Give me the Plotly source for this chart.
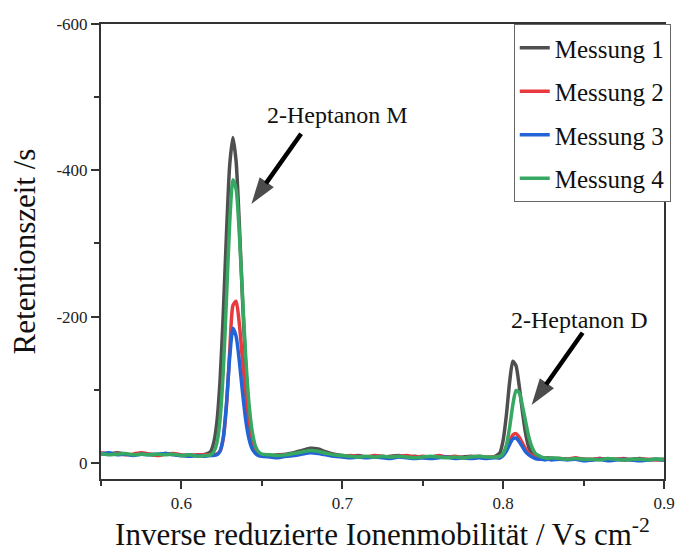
import plotly.graph_objects as go

# Inverse reduced ion mobility (Vs cm^-2), shared by all runs
x_k0 = [
    0.550, 0.555, 0.560, 0.565, 0.570, 0.575, 0.580, 0.585, 0.590, 0.595, 0.600, 0.605, 0.610, 0.615,
    0.618, 0.620, 0.622, 0.624, 0.626, 0.628, 0.630, 0.632, 0.634, 0.636, 0.638, 0.640, 0.642, 0.644,
    0.646, 0.648, 0.650,
    0.655, 0.660, 0.665, 0.670, 0.675, 0.680, 0.685, 0.690, 0.695, 0.700, 0.705, 0.710, 0.715, 0.720,
    0.725, 0.730, 0.735, 0.740, 0.745, 0.750, 0.755, 0.760, 0.765, 0.770, 0.775, 0.780, 0.785, 0.790,
    0.795,
    0.798, 0.800, 0.802, 0.804, 0.806, 0.808, 0.810, 0.812, 0.814, 0.816, 0.818, 0.820, 0.822, 0.824,
    0.826, 0.828, 0.830,
    0.835, 0.840, 0.845, 0.850, 0.855, 0.860, 0.865, 0.870, 0.875, 0.880, 0.885, 0.890, 0.895, 0.900,
]

# Retention time (s) per measurement
rt_messung_1 = [
    -13, -12, -14, -12, -11, -13, -12, -11, -13, -12, -10, -11, -10, -12,
    -15, -27, -55, -112, -203, -313, -407, -445, -412, -326, -222, -131, -69, -34, -19, -12, -11,
    -10, -11, -12, -14, -17, -20, -19, -15, -12, -10, -9, -10, -8, -9, -8, -9, -10, -8, -9, -7,
    -8, -9, -8, -7, -8, -9, -8, -7, -9,
    -14, -31, -65, -110, -139, -133, -105, -70, -40, -21, -12, -9, -7, -7, -6, -7, -6,
    -6, -5, -6, -5, -4, -6, -5, -5, -4, -5, -6, -4, -5, -4,
]
rt_messung_2 = [
    -14, -12, -13, -11, -12, -14, -12, -10, -12, -13, -11, -10, -11, -11,
    -11, -11, -12, -16, -33, -78, -152, -215, -221, -190, -140, -91, -53, -29, -17, -12, -10,
    -9, -10, -11, -12, -14, -16, -15, -13, -11, -9, -10, -9, -8, -10, -9, -8, -9, -10, -8, -9,
    -8, -10, -8, -9, -7, -8, -9, -8, -8,
    -7, -11, -18, -29, -38, -40, -35, -27, -19, -13, -10, -8, -7, -6, -7, -6, -5,
    -6, -5, -7, -5, -5, -6, -4, -5, -6, -4, -5, -5, -4, -5,
]
rt_messung_3 = [
    -12, -14, -11, -12, -10, -12, -11, -12, -13, -11, -10, -9, -10, -9,
    -10, -10, -11, -16, -35, -81, -144, -184, -173, -139, -96, -58, -33, -19, -13, -10, -9,
    -8, -7, -9, -10, -12, -14, -13, -11, -9, -8, -7, -8, -7, -8, -7, -6, -8, -7, -6, -7,
    -6, -7, -8, -6, -7, -6, -7, -6, -7,
    -7, -10, -16, -25, -33, -34, -29, -22, -15, -11, -8, -6, -5, -5, -4, -5, -4,
    -5, -4, -5, -3, -4, -5, -3, -4, -5, -4, -3, -4, -5, -4,
]
rt_messung_4 = [
    -13, -11, -12, -13, -11, -12, -11, -12, -11, -12, -10, -11, -9, -10,
    -11, -15, -27, -59, -124, -224, -328, -387, -374, -313, -227, -144, -81, -43, -23, -15, -12,
    -11, -10, -11, -13, -15, -17, -16, -13, -11, -10, -9, -8, -9, -8, -9, -8, -9, -8, -7, -8,
    -9, -8, -7, -8, -7, -8, -9, -8, -8,
    -9, -13, -24, -48, -79, -99, -96, -78, -56, -35, -21, -13, -10, -8, -7, -6, -7,
    -6, -5, -6, -5, -5, -4, -6, -5, -4, -5, -5, -4, -5, -5,
]

series_names = ["Messung 1", "Messung 2", "Messung 3", "Messung 4"]
series_values = [rt_messung_1, rt_messung_2, rt_messung_3, rt_messung_4]
series_colors = ["#4f4f4f", "#e8393e", "#2264d6", "#37a862"]

# Peak labels: text position and arrow (tail -> tip)
peak_labels = ["2-Heptanon M", "2-Heptanon D"]
label_x = [0.697, 0.8476]
label_y = [-476, -196]
arrow_tail_x = [0.6744, 0.8494]
arrow_tail_y = [-450, -178]
arrow_tip_x = [0.6435, 0.8177]
arrow_tip_y = [-354, -79]

y_tickvals = [0, -200, -400, -600]
y_ticktext = ["0", "-200", "-400", "-600"]
x_tickvals = [0.6, 0.7, 0.8, 0.9]
x_ticktext = ["0.6", "0.7", "0.8", "0.9"]

SERIF = "Liberation Serif, Times New Roman, serif"
AXIS_COLOR = "#333333"

fig = go.Figure()
for i, (name, vals, col) in enumerate(zip(series_names, series_values, series_colors)):
    fig.add_trace(go.Scatter(
        x=x_k0, y=vals, mode="lines", name=name,
        line=dict(color=col, width=3.5, shape="spline", smoothing=0.6),
        legendgroup=f"g{i}",
    ))

# Arrows pointing at the two peaks
for tx, ty, hx, hy in zip(arrow_tail_x, arrow_tail_y, arrow_tip_x, arrow_tip_y):
    fig.add_trace(go.Scatter(
        x=[tx, hx], y=[ty, hy], mode="lines+markers",
        line=dict(color="#000000", width=4.5),
        marker=dict(symbol="arrow", size=[0, 28], angleref="previous", color="#000000",
                    line=dict(width=0)),
        showlegend=False, hoverinfo="skip",
    ))

for text, lx, ly in zip(peak_labels, label_x, label_y):
    fig.add_annotation(x=lx, y=ly, xref="x", yref="y", text=text,
                       showarrow=False, font=dict(family=SERIF, size=24, color="#111111"))

fig.update_xaxes(
    range=[0.55, 0.9], tickvals=x_tickvals, ticktext=x_ticktext,
    ticks="outside", ticklen=8, tickwidth=2, tickcolor=AXIS_COLOR,
    minor=dict(dtick=0.05, tick0=0.55, ticks="outside", ticklen=5, tickwidth=2, tickcolor=AXIS_COLOR),
    showline=True, linewidth=2, linecolor=AXIS_COLOR, mirror=True,
    showgrid=False, zeroline=False,
    tickfont=dict(family=SERIF, size=17, color="#222222"),
    title=dict(text="Inverse reduzierte Ionenmobilität / Vs cm<sup>-2</sup>",
               font=dict(family=SERIF, size=31, color="#111111"), standoff=8),
)
fig.update_yaxes(
    range=[22, -600], tickvals=y_tickvals, ticktext=y_ticktext,
    ticks="outside", ticklen=8, tickwidth=2, tickcolor=AXIS_COLOR,
    minor=dict(dtick=100, tick0=0, ticks="outside", ticklen=5, tickwidth=2, tickcolor=AXIS_COLOR),
    showline=True, linewidth=2, linecolor=AXIS_COLOR, mirror=True,
    showgrid=False, zeroline=False,
    tickfont=dict(family=SERIF, size=17, color="#222222"),
    title=dict(text="Retentionszeit /s",
               font=dict(family=SERIF, size=31, color="#111111"), standoff=12),
)

fig.update_layout(
    width=684, height=552,
    margin=dict(l=101, r=9, t=24, b=69),
    paper_bgcolor="white", plot_bgcolor="white",
    showlegend=True,
    legend=dict(
        x=1.012, y=1.0, xanchor="right", yanchor="top",
        bgcolor="white", bordercolor="#666666", borderwidth=1,
        font=dict(family=SERIF, size=25, color="#111111"),
        tracegroupgap=8, traceorder="grouped",
    ),
)

fig.write_html("out.html")
